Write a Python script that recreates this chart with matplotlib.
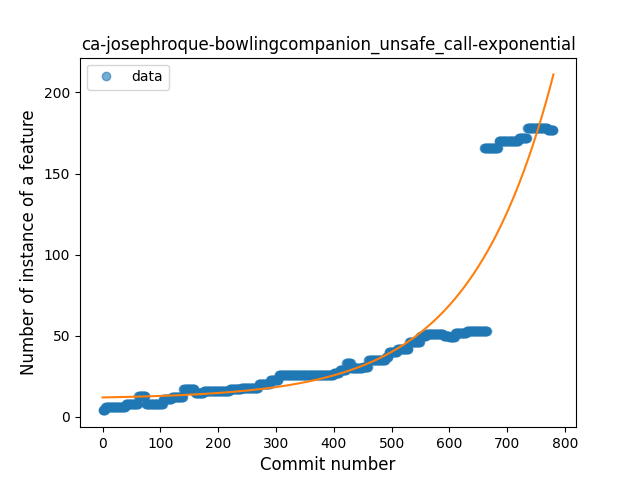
import numpy as np
import matplotlib.pyplot as plt

# step levels: (first commit, count)
lower_steps = [(0, 4), (5, 6), (40, 8), (62, 13), (75, 8), (105, 11), (120, 12),
               (140, 17), (160, 15), (175, 16), (220, 17), (240, 18), (270, 20),
               (290, 23), (305, 26), (400, 27), (410, 29), (422, 33), (430, 30),
               (450, 31), (460, 35), (490, 37), (495, 40), (510, 42), (530, 46),
               (550, 50), (560, 51), (590, 50), (600, 49), (610, 52), (630, 53)]
lower_end = 665
upper_steps = [(660, 166), (685, 170), (720, 172), (735, 178), (770, 177)]
upper_end = 780

# fitted exponential y = a*exp(b*x) + c
fit_a, fit_b, fit_c = 0.92, 0.0069, 11.08


def expand(steps, end):
    xs, ys = [], []
    for i, (x0, v) in enumerate(steps):
        x1 = steps[i + 1][0] if i + 1 < len(steps) else end + 1
        for x in range(x0, x1):
            xs.append(x)
            ys.append(v)
    return xs, ys


lx, ly = expand(lower_steps, lower_end)
ux, uy = expand(upper_steps, upper_end)
x = np.array(lx + ux)
y = np.array(ly + uy)

fig, ax = plt.subplots(figsize=(6.4, 4.8), dpi=100)
ax.plot(x, y, 'o', alpha=0.6, label='data')
xf = np.linspace(0, 780, 300)
ax.plot(xf, fit_a * np.exp(fit_b * xf) + fit_c)
ax.set_xlabel('Commit number', fontsize=12)
ax.set_ylabel('Number of instance of a feature', fontsize=12)
ax.set_title('ca-josephroque-bowlingcompanion_unsafe_call-exponential')
ax.legend(loc='upper left')
plt.savefig('out.png')
